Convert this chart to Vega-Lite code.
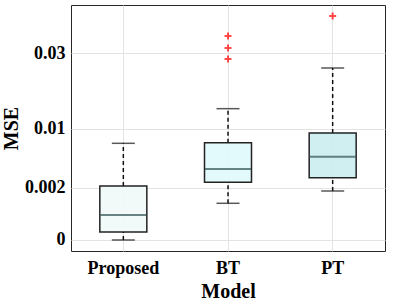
{
  "$schema": "https://vega.github.io/schema/vega-lite/v6.json",
  "width": 314,
  "height": 246,
  "autosize": "none",
  "padding": {"left": 71, "top": 5, "right": 14, "bottom": 55},
  "background": "white",
  "config": {
    "view": {"stroke": "#262626", "strokeWidth": 1},
    "font": "Liberation Serif",
    "axis": {
      "labelFont": "Liberation Serif",
      "titleFont": "Liberation Serif",
      "labelFontWeight": "bold",
      "titleFontWeight": "bold",
      "labelColor": "#000",
      "titleColor": "#000",
      "labelFontSize": 18,
      "titleFontSize": 20,
      "domain": false,
      "ticks": false,
      "grid": true,
      "gridColor": "#e3e3e3",
      "gridWidth": 1,
      "zindex": 1
    }
  },
  "datasets": {
    "boxes": [
      {"model": "Proposed", "lo": 0, "q1": 0.0000368, "med": 0.000416, "q3": 0.002141, "hi": 0.007392},
      {"model": "BT", "lo": 0.000941, "q1": 0.002465, "med": 0.003833, "q3": 0.00749, "hi": 0.01418},
      {"model": "PT", "lo": 0.001741, "q1": 0.0029, "med": 0.005385, "q3": 0.00917, "hi": 0.02518}
    ],
    "outliers": [
      {"model": "BT", "mse": 0.0362},
      {"model": "BT", "mse": 0.03181},
      {"model": "BT", "mse": 0.02806},
      {"model": "PT", "mse": 0.04417}
    ]
  },
  "encoding": {
    "x": {
      "field": "model",
      "type": "nominal",
      "sort": ["Proposed", "BT", "PT"],
      "scale": {"type": "band", "paddingInner": 0, "paddingOuter": 0},
      "axis": {"title": "Model", "labelAngle": 0, "labelPadding": 8, "titlePadding": 4}
    }
  },
  "layer": [
    {
      "data": {"name": "boxes"},
      "mark": {"type": "rule", "strokeDash": [4, 3], "strokeWidth": 1.5, "color": "#111"},
      "encoding": {
        "y": {"field": "lo", "type": "quantitative",
          "scale": {"type": "pow", "exponent": 0.47, "domain": [-0.0000727, 0.04891], "nice": false, "zero": false},
          "axis": {"title": "MSE", "values": [0, 0.002, 0.01, 0.03], "format": "~g", "labelPadding": 6, "titlePadding": 3}},
        "y2": {"field": "q1"}
      }
    },
    {
      "data": {"name": "boxes"},
      "mark": {"type": "rule", "strokeDash": [4, 3], "strokeWidth": 1.5, "color": "#111"},
      "encoding": {
        "y": {"field": "q3", "type": "quantitative"},
        "y2": {"field": "hi"}
      }
    },
    {
      "data": {"name": "boxes"},
      "mark": {"type": "tick", "orient": "horizontal", "thickness": 1.5, "size": 23, "color": "#111"},
      "encoding": {"y": {"field": "lo", "type": "quantitative"}}
    },
    {
      "data": {"name": "boxes"},
      "mark": {"type": "tick", "orient": "horizontal", "thickness": 1.5, "size": 23, "color": "#111"},
      "encoding": {"y": {"field": "hi", "type": "quantitative"}}
    },
    {
      "data": {"name": "boxes"},
      "mark": {"type": "bar", "size": 47, "stroke": "#222", "strokeWidth": 1.5, "fillOpacity": 0.9},
      "encoding": {
        "y": {"field": "q1", "type": "quantitative"},
        "y2": {"field": "q3"},
        "fill": {"field": "model", "type": "nominal",
          "scale": {"domain": ["Proposed", "BT", "PT"], "range": ["#eff8f8", "#dffafb", "#cbedf0"]},
          "legend": null}
      }
    },
    {
      "data": {"name": "boxes"},
      "mark": {"type": "tick", "orient": "horizontal", "thickness": 2, "size": 46, "color": "#2f5151"},
      "encoding": {"y": {"field": "med", "type": "quantitative"}}
    },
    {
      "data": {"name": "outliers"},
      "mark": {"type": "point", "shape": "M-1,0H1M0,-1V1", "size": 49, "stroke": "#ff0000", "strokeWidth": 2, "filled": false},
      "encoding": {"y": {"field": "mse", "type": "quantitative"}}
    }
  ]
}
